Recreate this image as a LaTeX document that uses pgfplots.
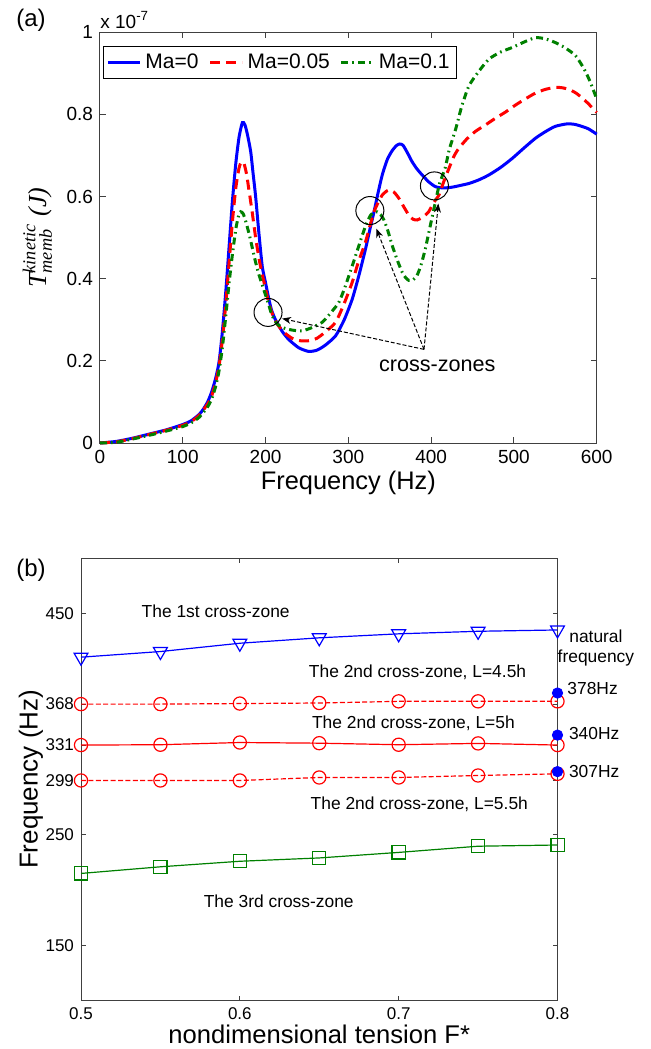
\documentclass[border=0pt]{standalone}
\usepackage{fontspec}
\setmainfont{Liberation Sans}
\newfontfamily\tnr{Liberation Serif}
\usepackage{amsmath}
\usepackage{pgfplots}
\pgfplotsset{compat=1.18}
\usetikzlibrary{arrows.meta}
\definecolor{mblue}{rgb}{0,0,1}
\definecolor{mred}{rgb}{1,0,0}
\definecolor{mgreen}{rgb}{0,0.5,0}

\begin{document}
\begin{tikzpicture}
\path[use as bounding box] (0,0) rectangle (325pt,-524.5pt);

% ---------- (a) ----------
\begin{axis}[
at={(50pt,-221.5pt)}, anchor=south west,
scale only axis, width=248.35pt, height=205.35pt,
xmin=0, xmax=600, ymin=0, ymax=1,
xtick={0,100,...,600}, ytick={0,0.2,0.4,0.6,0.8,1},
/pgf/number format/assume math mode=true,
tick label style={font=\fontsize{9.5}{11}\selectfont},
axis line style={line width=0.5pt, black!75},
tick style={line width=0.5pt, black!75},
major tick length=3pt,
xlabel={Frequency (Hz)},
xlabel style={font=\fontsize{12.7}{14}\selectfont, at={(axis description cs:0.5,0)}, anchor=center, yshift=-20pt},
ylabel={$\text{\tnr\itshape T}^{\text{\tnr\itshape kinetic}}_{\text{\tnr\itshape memb}}$\ {\tnr\itshape(J)}},
ylabel style={font=\fontsize{13}{15}\selectfont, at={(axis description cs:-0.126,0.5)}, anchor=center},
legend style={at={(rel axis cs:0.006,0.967)}, anchor=north west, draw=black, line width=0.5pt,
  font=\fontsize{10.5}{12}\selectfont, inner sep=1.5pt,
  /tikz/every even column/.append style={column sep=3pt}},
legend columns=3,
legend image code/.code={\draw[#1] (0pt,0pt) -- (16pt,0pt);},
clip=false,
]
\addplot[mblue, line width=1.5pt, smooth, tension=0.4] coordinates {
(0,0) (20,0.004) (40,0.012) (60,0.022) (80,0.032) (100,0.045) (110,0.054) (120,0.070)
(125,0.083) (130,0.10) (135,0.125) (140,0.16) (144,0.2) (148,0.275) (152,0.37) (156,0.48)
(160,0.59) (164,0.68) (168,0.745) (172,0.78) (175,0.775) (178,0.752) (182,0.71) (185,0.655)
(188,0.60) (192,0.51) (196,0.43) (200,0.39) (203,0.36) (207,0.325) (212,0.30) (220,0.272)
(228,0.252) (240,0.232) (252,0.223) (262,0.226) (272,0.238) (284.6,0.261) (295,0.30)
(304.8,0.351) (313,0.41) (320.8,0.473) (326,0.52) (331,0.563) (336,0.61) (341,0.653)
(347,0.69) (353,0.712) (358,0.724) (362,0.728) (366,0.725) (371,0.708) (377,0.685)
(383,0.667) (389,0.653) (397,0.636) (405.4,0.624) (415,0.621) (425.6,0.623) (435,0.627)
(445.8,0.632) (458,0.641) (470,0.653) (484,0.671) (498,0.693) (512,0.718) (526,0.742)
(538,0.758) (550,0.771) (564,0.777) (573,0.776) (582,0.771) (590,0.765) (600,0.752)
};
\addlegendentry{Ma=0}
\addplot[mred, line width=1.5pt, dash pattern=on 5pt off 3pt, smooth, tension=0.4] coordinates {
(0,0) (20,0.003) (40,0.011) (60,0.021) (80,0.031) (100,0.043) (110,0.052) (120,0.068)
(130,0.095) (135,0.115) (140,0.15) (144,0.19) (148,0.255) (152,0.34) (156,0.44) (160,0.54)
(164,0.62) (168,0.67) (171,0.685) (174,0.68) (177,0.655) (180,0.615) (184,0.56) (188,0.50)
(192,0.45) (196,0.41) (200,0.375) (204,0.34) (208,0.315) (214,0.29) (222,0.27) (232,0.255)
(242,0.249) (252,0.249) (262,0.255) (272,0.27) (284.6,0.294) (295,0.34) (304.8,0.392)
(312,0.44) (320.8,0.49) (331,0.563) (341,0.604) (349,0.616) (355,0.611) (361,0.596)
(367,0.575) (373,0.555) (378,0.545) (383,0.543) (390,0.55) (397,0.563) (403,0.585)
(409.5,0.604) (415,0.635) (421.6,0.669) (428,0.70) (433.7,0.718) (443,0.74) (453.7,0.759)
(466,0.775) (477.9,0.791) (490,0.806) (502,0.823) (514,0.838) (526,0.852) (538,0.861)
(550,0.866) (558,0.865) (566.6,0.861) (575,0.852) (582.6,0.840) (590,0.826) (600,0.805)
};
\addlegendentry{Ma=0.05}
\addplot[mgreen, line width=1.5pt, dash pattern=on 3.5pt off 2pt on 0.8pt off 2pt, smooth, tension=0.4] coordinates {
(0,0) (20,0.002) (40,0.010) (60,0.019) (80,0.029) (100,0.040) (110,0.049) (120,0.063)
(130,0.088) (135,0.108) (140,0.14) (144,0.178) (148,0.235) (152,0.31) (156,0.39) (160,0.46)
(164,0.52) (167,0.55) (170,0.563) (173,0.558) (176,0.54) (180,0.51) (184,0.475) (188,0.44)
(192,0.41) (196,0.385) (200,0.36) (204,0.335) (208,0.31) (214,0.29) (222,0.28) (232,0.275)
(244,0.273) (256,0.281) (268.5,0.294) (280,0.32) (288.7,0.343) (296,0.38) (304.8,0.432)
(311,0.47) (316.9,0.506) (322,0.535) (327,0.555) (331,0.562) (335,0.563) (339,0.556)
(343,0.543) (348,0.515) (353,0.481) (359,0.446) (365,0.416) (369,0.403) (373,0.396)
(378,0.397) (383,0.408) (388,0.435) (393,0.473) (398,0.52) (403.5,0.571) (410,0.63)
(417,0.67) (422,0.715) (429.6,0.764) (437,0.82) (445.8,0.870) (458,0.906) (470,0.935)
(484,0.952) (498,0.963) (512,0.976) (526,0.987) (538,0.984) (550,0.975) (562,0.962)
(574.5,0.943) (585,0.91) (592,0.88) (600,0.838)
};
\addlegendentry{Ma=0.1}
\addplot[only marks, mark=o, mark size=7pt, mark options={black, line width=0.5pt}, forget plot]
coordinates {(203,0.318) (326,0.566) (404,0.626)};
\addplot[black, line width=0.5pt, dash pattern=on 2pt off 1pt, -{Stealth[length=4.5pt,width=3.5pt]}, forget plot]
coordinates {(391.4,0.228) (220,0.303)};
\addplot[black, line width=0.5pt, dash pattern=on 2pt off 1pt, -{Stealth[length=4.5pt,width=3.5pt]}, forget plot]
coordinates {(391.4,0.228) (333.8,0.522)};
\addplot[black, line width=0.5pt, dash pattern=on 2pt off 1pt, -{Stealth[length=4.5pt,width=3.5pt]}, forget plot]
coordinates {(391.4,0.228) (408.7,0.583)};
\node[font=\fontsize{10.8}{12}\selectfont] at (axis cs:407.5,0.188) {cross-zones};
\node[anchor=south west, inner sep=0pt, font=\fontsize{9.5}{11}\selectfont] at (rel axis cs:0,1.008) {x 10\textsuperscript{-7}};
\end{axis}

% ---------- (b) ----------
\begin{axis}[
at={(40.5pt,-500.35pt)}, anchor=south west,
scale only axis, width=238.25pt, height=221.35pt,
xmin=0.5, xmax=0.8, ymin=100, ymax=500,
xtick={0.5,0.6,0.7,0.8}, ytick={150,250,299,331,368,450},
/pgf/number format/assume math mode=true,
tick label style={font=\fontsize{8.5}{10}\selectfont},
axis line style={line width=0.5pt, black!75},
tick style={line width=0.5pt, black!75},
major tick length=2.5pt,
xlabel={nondimensional tension F*},
xlabel style={font=\fontsize{12.8}{14}\selectfont, at={(axis description cs:0.5,0)}, anchor=center, yshift=-17pt},
ylabel={Frequency (Hz)},
ylabel style={font=\fontsize{13}{15}\selectfont, at={(axis description cs:-0.105,0.5)}, anchor=center},
clip=false,
]
\addplot[mblue, line width=0.6pt, mark=triangle, mark size=4pt, mark options={solid, rotate=180, line width=0.6pt}]
coordinates {(0.5,410.4) (0.55,415.5) (0.6,423) (0.65,427.9) (0.7,431.5) (0.75,433.8) (0.8,435)};
\addplot[mred, line width=0.6pt, dash pattern=on 2.5pt off 1.2pt, mark=o, mark size=3.3pt, mark options={solid, line width=0.6pt}]
coordinates {(0.5,368) (0.55,368) (0.6,368.5) (0.65,369) (0.7,370.5) (0.75,370.5) (0.8,370.5)};
\addplot[mred, line width=0.6pt, mark=o, mark size=3.3pt, mark options={solid, line width=0.6pt}]
coordinates {(0.5,331) (0.55,331.3) (0.6,333.3) (0.65,332.7) (0.7,331.3) (0.75,332.5) (0.8,331)};
\addplot[mred, line width=0.6pt, dash pattern=on 2.5pt off 1.2pt, mark=o, mark size=3.3pt, mark options={solid, line width=0.6pt}]
coordinates {(0.5,299) (0.55,299) (0.6,299) (0.65,301.7) (0.7,301.7) (0.75,303.5) (0.8,305)};
\addplot[mgreen, line width=0.6pt, mark=square, mark size=3.3pt, mark options={solid, line width=0.6pt}]
coordinates {(0.5,215) (0.55,221) (0.6,226) (0.65,229) (0.7,234) (0.75,239.6) (0.8,240.7)};
\addplot[only marks, mark=*, mark size=2.6pt, mblue]
coordinates {(0.8,378) (0.8,340) (0.8,307)};
\begin{scope}[every node/.style={font=\fontsize{8.7}{10}\selectfont}]
\node at (axis cs:0.5848,451.5) {The 1st cross-zone};
\node at (axis cs:0.7119,396.9) {The 2nd cross-zone, L=4.5h};
\node at (axis cs:0.7093,350.5) {The 2nd cross-zone, L=5h};
\node at (axis cs:0.713,277.9) {The 2nd cross-zone, L=5.5h};
\node at (axis cs:0.6245,190) {The 3rd cross-zone};
\node[align=center, font=\fontsize{8.7}{10}\selectfont] at (axis cs:0.8242,419.1) {natural\\frequency};
\node[anchor=west, inner sep=0pt] at (axis cs:0.806,382) {378Hz};
\node[anchor=west, inner sep=0pt] at (axis cs:0.807,341.5) {340Hz};
\node[anchor=west, inner sep=0pt] at (axis cs:0.807,307) {307Hz};
\end{scope}
\end{axis}

\node[font=\fontsize{12}{14}\selectfont] at (15.5pt,-10pt) {(a)};
\node[font=\fontsize{12}{14}\selectfont] at (15.5pt,-285pt) {(b)};
\end{tikzpicture}
\end{document}
